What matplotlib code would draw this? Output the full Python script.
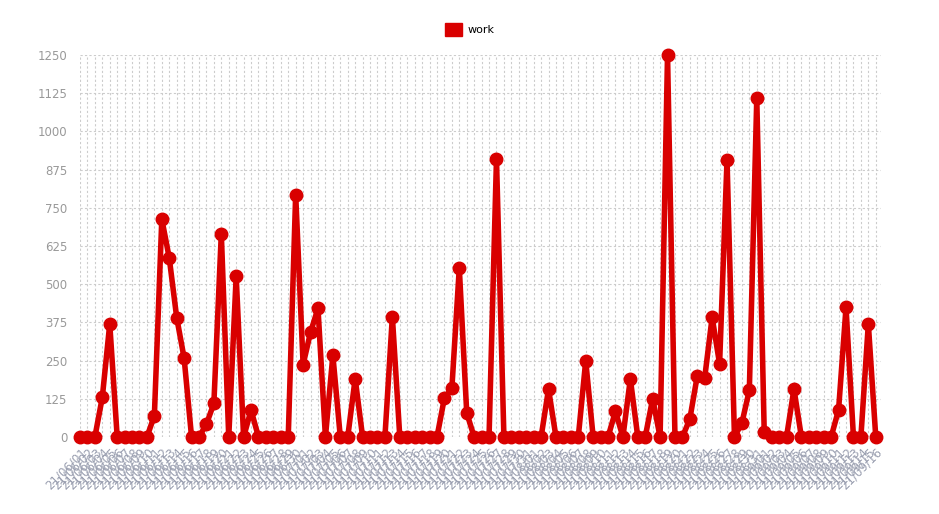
import matplotlib.pyplot as plt
import matplotlib.patches as mpatches
import numpy as np
import pandas as pd

# Daily "work" values
work = [0, 0, 0, 130, 370, 0, 0, 0, 0, 0,
        70, 713, 586, 391, 258, 0, 0, 42, 110, 665,
        0, 526, 0, 88, 0, 0, 0, 0, 0, 793,
        237, 343, 421, 0, 267, 0, 0, 191, 0, 0,
        0, 0, 394, 0, 0, 0, 0, 0, 0, 128,
        159, 553, 79, 0, 0, 0, 909, 0, 0, 0,
        0, 0, 0, 157, 0, 0, 0, 0, 249, 0,
        0, 0, 84, 0, 190, 0, 0, 125, 0, 1250,
        0, 0, 59, 200, 194, 392, 239, 907, 0, 46,
        153, 1108, 18, 0, 0, 0, 157, 0, 0, 0,
        0, 0, 89, 424, 0, 0, 370, 0]

dates = pd.date_range('2021-06-01', periods=len(work), freq='D')
labels = [d.strftime('%y/%m/%d') for d in dates]
yticks = [0, 125, 250, 375, 500, 625, 750, 875, 1000, 1125, 1250]

red = '#d90000'
grey = '#999999'

fig = plt.figure(figsize=(9.39, 5.14), dpi=100)
ax = fig.add_axes([0.0852, 0.1498, 0.853, 0.7432])

x = np.arange(len(work))
ax.plot(x, work, color=red, lw=4, marker='o', markersize=9,
        solid_joinstyle='round', clip_on=False, zorder=3)

ax.set_xlim(0, len(work) - 0.3)
ax.set_ylim(0, 1250)
ax.set_yticks(yticks)
ax.set_xticks(x)
ax.set_xticklabels(labels, rotation=45, ha='right', rotation_mode='anchor',
                   fontsize=8.5, color='#9a9fb0')
ax.tick_params(axis='y', labelsize=8.5, labelcolor=grey, length=0, pad=9)
ax.tick_params(axis='x', length=0, pad=6)

ax.grid(True, color='#cccccc', ls=(0, (2, 2)), lw=0.8)
ax.set_axisbelow(True)
for s in ax.spines.values():
    s.set_visible(False)

fig.legend([mpatches.Patch(color=red)], ['work'], loc='upper center',
           bbox_to_anchor=(0.5, 0.975), frameon=False, fontsize=8,
           handlelength=1.5, handleheight=1.5, handletextpad=0.5)

fig.savefig('out.png', dpi=100)
